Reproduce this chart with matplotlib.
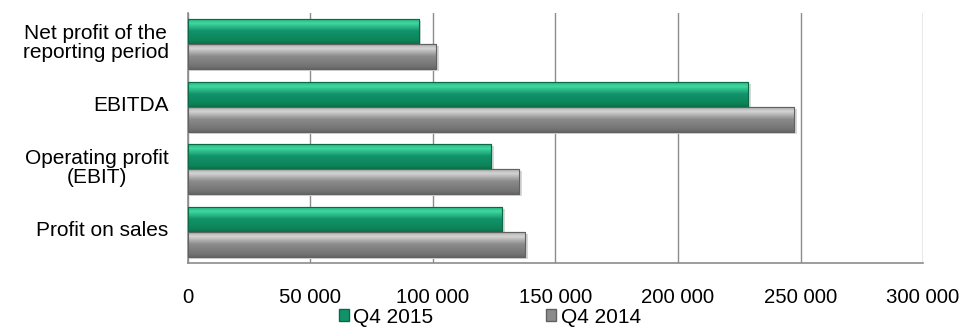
import matplotlib
matplotlib.use("Agg")
import matplotlib.pyplot as plt
import numpy as np
from matplotlib.colors import LinearSegmentedColormap
from matplotlib.patches import Patch
from matplotlib.ticker import FuncFormatter, MultipleLocator

categories = ["Net profit of the\nreporting period", "EBITDA",
              "Operating profit\n(EBIT)", "Profit on sales"]
q4_2015 = [94100, 228400, 123800, 128000]
q4_2014 = [101200, 247400, 135100, 137400]
series_names = ["Q4 2015", "Q4 2014"]

plt.rcParams['font.family'] = ['Liberation Sans', 'DejaVu Sans']

fig = plt.figure(figsize=(9.66, 3.29), dpi=100)
ax = fig.add_axes([0.1946, 0.2006, 0.7609, 0.7599])

n = len(categories)
ypos = np.arange(n)[::-1]  # first category on top
h = 0.4

green_cmap = LinearSegmentedColormap.from_list(
    "g", [(0.0, "#0a7048"), (0.12, "#0d8359"), (0.5, "#11936a"),
          (0.8, "#3fd7a0"), (0.92, "#2fbf8a"), (1.0, "#0b7a52")])
gray_cmap = LinearSegmentedColormap.from_list(
    "k", [(0.0, "#666666"), (0.12, "#747474"), (0.5, "#8c8c8c"),
          (0.8, "#d4d4d4"), (0.92, "#b8b8b8"), (1.0, "#7a7a7a")])

b1 = ax.barh(ypos + h / 2, q4_2015, height=h, color="#11936a",
             edgecolor="#0a6a45", linewidth=0.8, zorder=3)
b2 = ax.barh(ypos - h / 2, q4_2014, height=h, color="#8c8c8c",
             edgecolor="#616161", linewidth=0.8, zorder=3)

grad = np.linspace(0, 1, 64).reshape(-1, 1)
for bars, cmap in ((b1, green_cmap), (b2, gray_cmap)):
    for p in bars:
        x0, y0, w, hh = p.get_x(), p.get_y(), p.get_width(), p.get_height()
        ax.add_patch(plt.Rectangle((x0, y0 - 0.03), w + 1200, hh,
                                   color="#d8d8d8", zorder=2, lw=0))
        im = ax.imshow(grad, extent=[x0, x0 + w, y0, y0 + hh], origin="lower",
                       cmap=cmap, aspect="auto", zorder=4, interpolation="bilinear")
        im.set_clip_path(p)
        ax.add_patch(plt.Rectangle((x0, y0), w, hh, fill=False,
                                   edgecolor=p.get_edgecolor(), lw=0.8, zorder=5))

ax.set_xlim(0, 300000)
ax.set_ylim(-0.5, n - 0.5)
ax.xaxis.set_major_locator(MultipleLocator(50000))
ax.xaxis.set_major_formatter(FuncFormatter(lambda v, p: f"{int(v):,}".replace(",", " ")))
ax.set_yticks(ypos + 0.05)
ax.set_yticklabels(categories, fontsize=15, linespacing=1.0, ha="right",
                   multialignment="center")
ax.tick_params(axis="y", length=0, pad=14)
ax.tick_params(axis="x", length=0, pad=18, labelsize=14.7)
ax.grid(axis="x", color="#8c8c8c", linewidth=1, zorder=0)
ax.set_axisbelow(True)
for s in ("top", "right"):
    ax.spines[s].set_visible(False)
for s in ("left", "bottom"):
    ax.spines[s].set_color("#8c8c8c")
    ax.spines[s].set_linewidth(1.2)

handles = [Patch(facecolor="#11936a", edgecolor="#0a6a45"),
           Patch(facecolor="#8c8c8c", edgecolor="#616161")]
fig.legend(handles, series_names, loc="center", bbox_to_anchor=(0.507, 0.036),
           ncol=2, frameon=False, fontsize=15, handlelength=0.5, handleheight=0.5,
           handletextpad=0.2, columnspacing=5.4, borderpad=0)

fig.savefig("out.png", dpi=100)
